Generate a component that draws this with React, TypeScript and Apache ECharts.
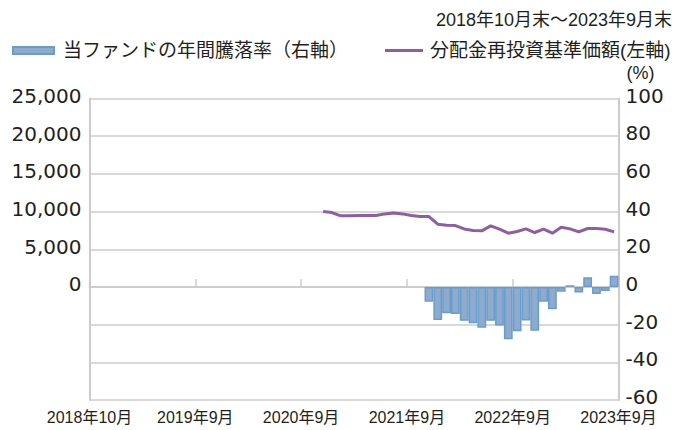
import React, { useEffect, useRef } from 'react';
import * as echarts from 'echarts';

// 60 month-end categories: 2018年10月 … 2023年9月
const months: string[] = [];
for (let i = 0; i < 60; i++) {
  const y = 2018 + Math.floor((9 + i) / 12);
  const m = ((9 + i) % 12) + 1;
  months.push(`${y}年${m}月`);
}

const tickLabels = ['2018年10月', '2019年9月', '2020年9月', '2021年9月', '2022年9月', '2023年9月'];

const barName = '当ファンドの年間騰落率（右軸）';
const lineName = '分配金再投資基準価額(左軸)';
const periodText = '2018年10月末～2023年9月末';

// 分配金再投資基準価額 (starts 2020年12月)
const navValues: (number | null)[] = [
  ...Array(26).fill(null),
  10000, 9870, 9430, 9430, 9470, 9470, 9470, 9690, 9820, 9690, 9470, 9340, 9340,
  8320, 8190, 8140, 7700, 7500, 7440, 8100, 7660, 7130, 7350, 7700, 7220, 7660,
  7130, 7920, 7700, 7300, 7750, 7750, 7660, 7300,
];

// 年間騰落率 % (starts 2021年12月)
const returnValues: (number | null)[] = [
  ...Array(38).fill(null),
  -7.8, -17.5, -14.0, -14.3, -18.0, -19.3, -21.6, -18.0, -20.5, -27.7, -23.5,
  -17.8, -23.2, -7.8, -11.8, -2.5, 0.9, -3.0, 5.1, -3.7, -2.1, 6.0,
];

const FONT = "'Liberation Sans', 'Noto Sans CJK JP', sans-serif";
const NUMFONT = "'DejaVu Sans', 'Liberation Sans', sans-serif";
const TEXT = '#231f20';
const GRID = '#cccccc';
const LINE = '#8e5ea2';

export default function App() {
  const ref = useRef<HTMLDivElement>(null);
  useEffect(() => {
    if (!ref.current) return;
    const chart = echarts.init(ref.current, null, { renderer: 'svg' });
    chart.setOption({
      animation: false,
      backgroundColor: '#ffffff',
      textStyle: { fontFamily: FONT, color: TEXT },
      title: {
        text: periodText,
        right: 2,
        top: 6,
        textStyle: { fontFamily: FONT, fontSize: 18, fontWeight: 'normal', color: TEXT },
      },
      legend: [
        {
          data: [{ name: barName, icon: 'rect' }],
          left: 12,
          top: 41,
          padding: 0,
          itemWidth: 41,
          itemHeight: 7,
          textStyle: { fontFamily: FONT, fontSize: 19, color: TEXT, padding: [0, 0, 0, 4] },
        },
        {
          data: [{ name: lineName, icon: 'rect', itemStyle: { color: LINE, borderWidth: 0 } }],
          left: 385,
          top: 41,
          padding: 0,
          itemWidth: 38,
          itemHeight: 3,
          textStyle: { fontFamily: FONT, fontSize: 19, color: TEXT, padding: [0, 0, 0, 2] },
        },
      ],
      grid: { left: 89.5, right: 60.5, top: 98.5, bottom: 30, containLabel: false },
      xAxis: [
        {
          type: 'category',
          data: months,
          position: 'bottom',
          boundaryGap: true,
          axisLine: { show: true, lineStyle: { color: GRID, width: 2 } },
          axisTick: { show: false },
          axisLabel: { show: false },
          splitLine: { show: false },
        },
        {
          type: 'value',
          position: 'bottom',
          min: 0,
          max: 60,
          interval: 12,
          axisLine: { show: false },
          axisTick: { show: true, inside: true, length: 8, lineStyle: { color: GRID, width: 1.5 } },
          splitLine: { show: false },
          axisLabel: {
            show: true,
            margin: 9,
            fontFamily: FONT,
            fontSize: 16,
            lineHeight: 16,
            color: TEXT,
            formatter: (v: number) => tickLabels[Math.round(v / 12)] ?? '',
          },
        },
      ],
      yAxis: [
        {
          type: 'value',
          position: 'left',
          min: -15000,
          max: 25000,
          interval: 5000,
          axisLine: { show: true, lineStyle: { color: GRID, width: 2 } },
          axisTick: { show: false },
          splitLine: { show: true, lineStyle: { color: GRID, width: 1.5 } },
          axisLabel: {
            margin: 8,
            fontFamily: NUMFONT,
            fontSize: 20,
            verticalAlign: 'bottom',
            lineHeight: 5,
            color: TEXT,
            formatter: (v: number) => (v < 0 ? '' : v.toLocaleString('en-US')),
          },
        },
        {
          type: 'value',
          position: 'right',
          min: -60,
          max: 100,
          interval: 20,
          name: '(%)',
          nameLocation: 'end',
          nameGap: 17,
          nameTextStyle: { fontFamily: FONT, fontSize: 18, lineHeight: 18, color: TEXT, align: 'left', padding: [0, 0, 0, 8] },
          axisLine: { show: true, lineStyle: { color: GRID, width: 2 } },
          axisTick: { show: false },
          splitLine: { show: false },
          axisLabel: {
            margin: 7,
            fontFamily: NUMFONT,
            fontSize: 20,
            verticalAlign: 'bottom',
            lineHeight: 6,
            color: TEXT,
          },
        },
      ],
      series: [
        {
          name: barName,
          type: 'bar',
          xAxisIndex: 0,
          yAxisIndex: 1,
          data: returnValues,
          barWidth: '100%',
          itemStyle: { color: '#8cabcf', borderColor: '#6a9cca', borderWidth: 1.5 },
        },
        {
          name: lineName,
          type: 'line',
          xAxisIndex: 0,
          yAxisIndex: 0,
          data: navValues,
          symbol: 'none',
          lineStyle: { color: LINE, width: 3 },
          itemStyle: { color: LINE },
        },
      ],
    });
    return () => chart.dispose();
  }, []);
  return (
    <div
      ref={ref}
      style={{ position: 'fixed', left: 0, top: 0, width: 679, height: 430 }}
    />
  );
}
